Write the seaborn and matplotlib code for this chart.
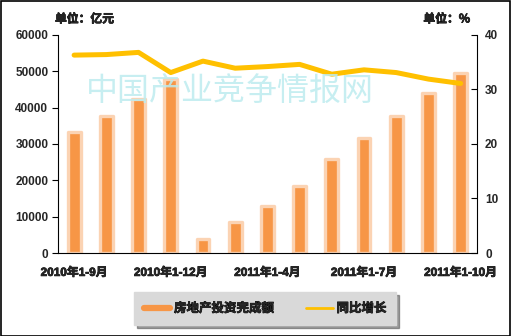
import matplotlib
matplotlib.use("Agg")
import matplotlib.pyplot as plt
import matplotlib.patheffects as pe
import seaborn as sns
import numpy as np
import pandas as pd
from matplotlib.lines import Line2D
from matplotlib.patches import Rectangle

sns.set_theme(style="white")
plt.rcParams['font.family'] = ['Liberation Sans', 'Noto Sans CJK SC', 'DejaVu Sans']

categories = ["2010年1-9月", "2010年1-10月", "2010年1-11月", "2010年1-12月",
              "2011年1-2月", "2011年1-3月", "2011年1-4月", "2011年1-5月",
              "2011年1-6月", "2011年1-7月", "2011年1-8月", "2011年1-9月",
              "2011年1-10月"]
investment = [33400, 37600, 42300, 48000, 3900, 8500, 13000, 18500,
              25900, 31600, 37700, 44000, 49400]
growth = [36.3, 36.4, 36.8, 33.1, 35.2, 33.9, 34.2, 34.6, 32.8, 33.6, 33.1, 31.9, 31.1]
left_ticks = [0, 10000, 20000, 30000, 40000, 50000, 60000]
right_ticks = [0, 10, 20, 30, 40]
shown_labels = ["2010年1-9月", "2010年1-12月", "2011年1-4月", "2011年1-7月", "2011年1-10月"]

df = pd.DataFrame({"cat": categories, "inv": investment, "growth": growth,
                   "pos": np.arange(len(categories))})

bold_fx = [pe.withStroke(linewidth=0.5, foreground="black")]

fig = plt.figure(figsize=(5.11, 3.36), dpi=100)
fig.patch.set_facecolor("white")
ax = fig.add_axes([0.1135, 0.247, 0.8195, 0.649])

bar_color = "#F79646"
glow = "#FBD3B3"
sns.barplot(data=df, x="cat", y="inv", ax=ax, color=bar_color, width=0.40,
            edgecolor=glow, linewidth=2.4, saturation=1)
for p in ax.patches:
    p.set_joinstyle("round")

ax.set_ylim(0, 60000)
ax.set_xlim(-0.5, len(categories) - 0.5)
ax.set_yticks(left_ticks)
ax.set_yticklabels([str(t) for t in left_ticks], fontsize=8.5, fontweight="bold")
ax.set_xlabel("")
ax.set_ylabel("")
label_pos = [categories.index(c) for c in shown_labels]
ax.set_xticks(label_pos)
ax.set_xticklabels(shown_labels, fontsize=8.5, fontweight="bold")
for t in ax.get_xticklabels():
    t.set_path_effects(bold_fx)
ax.set_xticks(np.arange(len(categories) + 1) - 0.5, minor=True)
ax.tick_params(axis="x", which="major", length=0, pad=10)
ax.tick_params(axis="x", which="minor", length=4, width=0.8, color="black", direction="out")
ax.tick_params(axis="y", length=4, width=0.8, color="black", direction="out", pad=3, left=True)
for s in ["top", "right"]:
    ax.spines[s].set_visible(False)
for s in ["left", "bottom"]:
    ax.spines[s].set_color("black")
    ax.spines[s].set_linewidth(0.8)

ax2 = ax.twinx()
sns.lineplot(data=df, x="pos", y="growth", ax=ax2, color="#FFC000", linewidth=3.6,
             solid_joinstyle="round", solid_capstyle="round")
ax2.set_ylim(0, 40)
ax2.set_xlim(-0.5, len(categories) - 0.5)
ax2.set_yticks(right_ticks)
ax2.set_yticklabels([str(t) for t in right_ticks], fontsize=8.5, fontweight="bold")
ax2.set_ylabel("")
ax2.set_xlabel("")
ax2.tick_params(axis="y", length=4, width=0.8, color="black", direction="in", pad=6, right=True)
for s in ["top", "left", "bottom"]:
    ax2.spines[s].set_visible(False)
ax2.spines["right"].set_color("black")
ax2.spines["right"].set_linewidth(0.8)
ax2.grid(False)
ax.grid(False)

# watermark
fig.text(230 / 511, 1 - 92 / 336, "中国产业竞争情报网", fontsize=23,
         color="#BDECEF", ha="center", va="center", alpha=0.85, zorder=5,
         family=["Noto Sans CJK SC"])

fig.text(55 / 511, 1 - 19 / 336, "单位：亿元", fontsize=8.5, fontweight="bold",
         ha="left", va="center", path_effects=bold_fx, family=["Noto Sans CJK SC"])
fig.text(470 / 511, 1 - 19 / 336, "单位：%", fontsize=8.5, fontweight="bold",
         ha="right", va="center", path_effects=bold_fx, family=["Noto Sans CJK SC"])

handles = [Line2D([], [], color=bar_color, linewidth=4.5),
           Line2D([], [], color="#FFC000", linewidth=2)]
leg = fig.legend(handles, ["房地产投资完成额", "同比增长"], loc="center",
                 bbox_to_anchor=(0.519, 0.082), ncol=2, frameon=True, fancybox=False,
                 shadow=True, facecolor="#D9D9D9", edgecolor="#D9D9D9",
                 prop={"size": 9, "weight": "bold", "family": ["Noto Sans CJK SC"]},
                 handlelength=2.1, handletextpad=0.3,
                 columnspacing=2.6, borderpad=0.8, borderaxespad=0)
for t in leg.get_texts():
    t.set_path_effects(bold_fx)

fig.add_artist(Rectangle((0.001, 0.001), 0.997, 0.997, transform=fig.transFigure,
                         fill=False, edgecolor="black", linewidth=1.2))

fig.savefig("out.png", dpi=100)
